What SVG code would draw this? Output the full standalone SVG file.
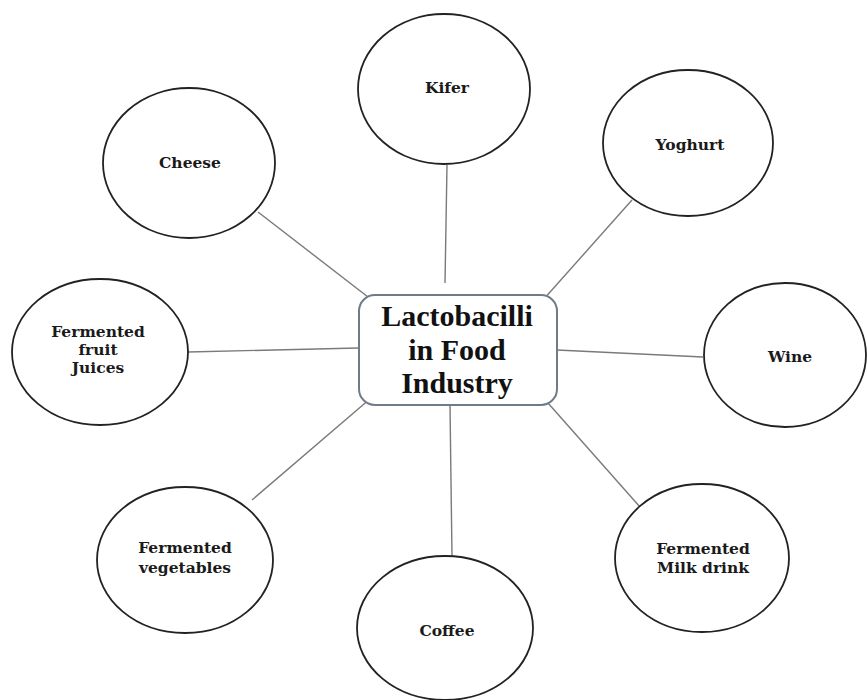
<svg xmlns="http://www.w3.org/2000/svg" width="867" height="700" viewBox="0 0 867 700">
<style>
.bg{fill:#ffffff}
.node ellipse{fill:#ffffff;stroke:#222222;stroke-width:1.8}
.lbl{font-family:"DejaVu Serif","Liberation Serif",serif;font-weight:bold;font-size:15.5px;fill:#1a1a1a;text-anchor:middle}
.title{font-family:"Liberation Serif","Times New Roman",serif;font-weight:bold;font-size:30px;fill:#111111;text-anchor:middle}
.conn line{stroke:#7a7a7a;stroke-width:1.4}
.hub{fill:#ffffff;stroke:#6f7c88;stroke-width:2}
</style>
<rect class="bg" x="0" y="0" width="867" height="700"/>
<g id="connectors" class="conn">
<line x1="447" y1="165" x2="445" y2="283"/>
<line x1="258" y1="212" x2="368" y2="297"/>
<line x1="632" y1="200" x2="543" y2="300"/>
<line x1="188" y1="352" x2="358" y2="348"/>
<line x1="557" y1="350" x2="703" y2="357"/>
<line x1="252" y1="500" x2="378" y2="392"/>
<line x1="450" y1="405" x2="452" y2="557"/>
<line x1="540" y1="394" x2="640" y2="507"/>
</g>
<g id="hub">
<rect class="hub" x="359" y="295" width="198" height="110" rx="16" ry="16"/>
<text class="title" x="457" y="326">Lactobacilli</text>
<text class="title" x="457" y="360">in Food</text>
<text class="title" x="457" y="393">Industry</text>
</g>
<g id="kifer" class="node">
<ellipse cx="444" cy="89" rx="86" ry="75"/>
<text class="lbl" x="447" y="93">Kifer</text>
</g>
<g id="cheese" class="node">
<ellipse cx="189" cy="163" rx="86" ry="75"/>
<text class="lbl" x="190" y="168">Cheese</text>
</g>
<g id="yoghurt" class="node">
<ellipse cx="688" cy="143" rx="85" ry="73"/>
<text class="lbl" x="690" y="150">Yoghurt</text>
</g>
<g id="juices" class="node">
<ellipse cx="100" cy="352" rx="88" ry="73"/>
<text class="lbl" x="98" y="337">Fermented</text>
<text class="lbl" x="98" y="355">fruit</text>
<text class="lbl" x="98" y="373">Juices</text>
</g>
<g id="wine" class="node">
<ellipse cx="785" cy="355" rx="81" ry="72"/>
<text class="lbl" x="790" y="362">Wine</text>
</g>
<g id="vegetables" class="node">
<ellipse cx="185" cy="560" rx="88" ry="73"/>
<text class="lbl" x="185" y="553">Fermented</text>
<text class="lbl" x="185" y="573">vegetables</text>
</g>
<g id="coffee" class="node">
<ellipse cx="445" cy="628" rx="88" ry="72"/>
<text class="lbl" x="447" y="636">Coffee</text>
</g>
<g id="milkdrink" class="node">
<ellipse cx="702" cy="558" rx="87" ry="74"/>
<text class="lbl" x="703" y="554">Fermented</text>
<text class="lbl" x="703" y="573">Milk drink</text>
</g>
</svg>
